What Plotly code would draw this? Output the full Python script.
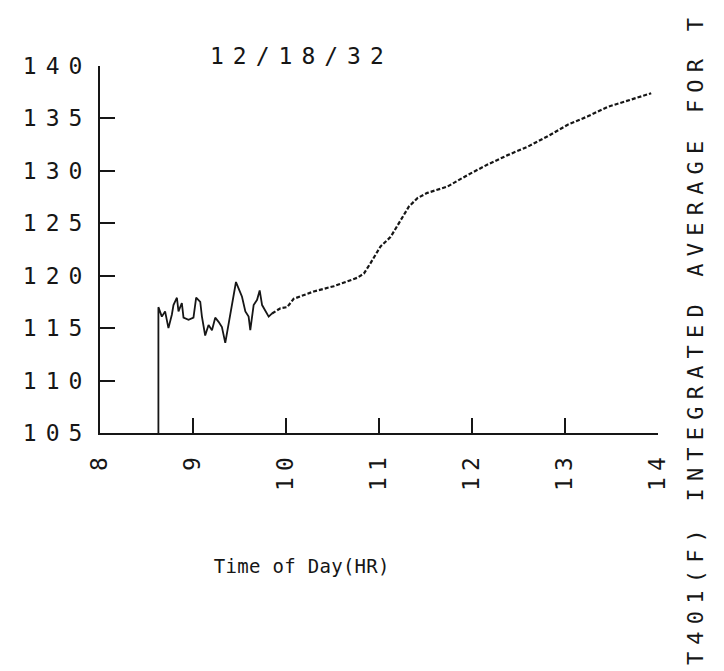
import plotly.graph_objects as go

# Time of day (hours) and integrated average temperature (F)
hours = [8.628, 8.628, 8.665, 8.700, 8.736, 8.773, 8.790, 8.827, 8.844, 8.880, 8.898,
         8.952, 9.005, 9.034, 9.078, 9.096, 9.131, 9.167, 9.204, 9.239, 9.275,
         9.311, 9.347, 9.372, 9.401, 9.430, 9.462, 9.490, 9.527, 9.563, 9.598,
         9.616, 9.652, 9.689, 9.717, 9.743, 9.778, 9.814, 9.850,
         9.940, 10.012, 10.083, 10.298, 10.514, 10.766, 10.837, 10.909, 11.017,
         11.125, 11.233, 11.322, 11.413, 11.520, 11.736, 11.952, 12.167, 12.383,
         12.598, 12.814, 13.029, 13.245, 13.459, 13.676, 13.927]
temps = [105.0, 117.0, 116.1, 116.6, 115.0, 116.3, 117.2, 117.9, 116.6, 117.4, 116.0,
         115.8, 116.0, 117.9, 117.5, 116.1, 114.3, 115.3, 114.8, 116.0, 115.6,
         115.1, 113.6, 114.8, 116.1, 117.7, 119.4, 118.8, 118.0, 116.6, 116.1,
         114.8, 117.2, 117.7, 118.6, 117.2, 116.6, 116.1, 116.4,
         116.9, 117.0, 117.8, 118.5, 119.0, 119.8, 120.2, 121.2, 122.8,
         123.7, 125.3, 126.6, 127.4, 127.9, 128.5, 129.6, 130.6, 131.5,
         132.3, 133.3, 134.4, 135.2, 136.1, 136.7, 137.4]

# index where the fluctuating start-up section ends and the steady rise begins
split = 38

x_ticks = [8, 9, 10, 11, 12, 13, 14]
y_ticks = [105, 110, 115, 120, 125, 130, 135, 140]

title_text = "12/18/32"
x_title = "Time of Day(HR)"
side_text = "T401(F) INTEGRATED AVERAGE FOR T"

FONT = "DejaVu Sans Mono"
INK = "#161616"

fig = go.Figure()
fig.add_trace(go.Scatter(
    x=hours[:split + 1], y=temps[:split + 1], mode="lines",
    line=dict(color=INK, width=1.8), showlegend=False, hoverinfo="skip",
))
fig.add_trace(go.Scatter(
    x=hours[split:], y=temps[split:], mode="lines",
    line=dict(color=INK, width=2.2, dash="4px,2px"), showlegend=False,
    hoverinfo="skip",
))

axis_common = dict(
    showgrid=False, zeroline=False, showline=True, linecolor=INK, linewidth=2,
    ticks="inside", ticklen=15, tickwidth=2, tickcolor=INK,
    tickfont=dict(family=FONT, size=23, color=INK),
)
fig.update_xaxes(range=[8, 14], tickvals=x_ticks, ticktext=[str(v) for v in x_ticks],
                 tickangle=-90, ticklabelstandoff=7, **axis_common)
fig.update_yaxes(range=[105, 140], tickvals=y_ticks, ticktext=[str(v) for v in y_ticks],
                 ticklabelstandoff=2, **axis_common)

fig.add_annotation(text=title_text, xref="paper", yref="paper", x=0.361, y=1.027,
                   showarrow=False, xanchor="center", yanchor="middle",
                   font=dict(family=FONT, size=23, color=INK))
fig.add_annotation(text=x_title, xref="paper", yref="paper", x=0.362, y=-0.362,
                   showarrow=False, xanchor="center", yanchor="middle",
                   font=dict(family=FONT, size=19, color=INK))
fig.add_annotation(text=side_text, xref="paper", yref="paper", x=1.068, y=0.259,
                   showarrow=False, xanchor="center", yanchor="middle", textangle=-90,
                   font=dict(family=FONT, size=22, color=INK))

fig.update_layout(
    width=724, height=671,
    margin=dict(l=100, r=66, t=66, b=238, pad=0),
    paper_bgcolor="white", plot_bgcolor="white",
)

# printer-style wide character spacing
spacing_css = (
    ".ytick text{letter-spacing:9px}"
    ".xtick text{letter-spacing:6px}"
    ".annotation[data-index='0'] text{letter-spacing:9px}"
    ".annotation[data-index='1'] text{letter-spacing:0.3px}"
    ".annotation[data-index='2'] text{letter-spacing:7.2px}"
)
post = ("var s=document.createElement('style');s.textContent=\"%s\";"
        "document.head.appendChild(s);" % spacing_css)

fig.write_html("out.html", post_script=post)
